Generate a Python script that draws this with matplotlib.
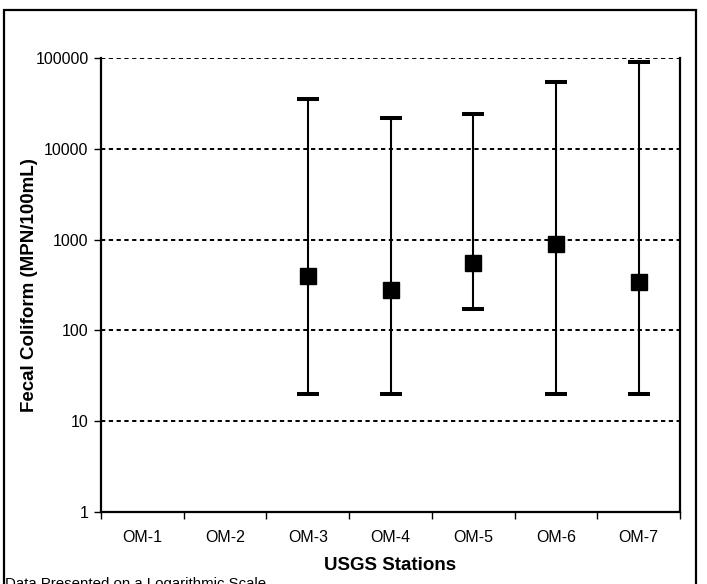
import matplotlib
matplotlib.use("Agg")
import matplotlib.pyplot as plt
from matplotlib.patches import Rectangle
from matplotlib.ticker import FixedLocator, NullFormatter, NullLocator

plt.rcParams["font.family"] = ["Liberation Sans", "DejaVu Sans"]

stations = ["OM-1", "OM-2", "OM-3", "OM-4", "OM-5", "OM-6", "OM-7"]
# geometric mean / min / max fecal coliform per station (no data at OM-1, OM-2)
means = [None, None, 400, 280, 550, 900, 340]
mins = [None, None, 20, 20, 170, 20, 20]
maxs = [None, None, 35000, 22000, 24000, 54000, 91000]
y_ticks = [1, 10, 100, 1000, 10000, 100000]

fig = plt.figure(figsize=(7.07, 5.84), dpi=100)
ax = fig.add_axes([0.1429, 0.1233, 0.8189, 0.7774])

xs, ys, lo, hi = [], [], [], []
for i, (m, a, b) in enumerate(zip(means, mins, maxs), start=1):
    if m is None:
        continue
    xs.append(i)
    ys.append(m)
    lo.append(m - a)
    hi.append(b - m)

ax.errorbar(xs, ys, yerr=[lo, hi], fmt="s", color="black", ecolor="black",
            elinewidth=1.5, capsize=8, capthick=2.9, markersize=11,
            zorder=3)

ax.set_yscale("log")
ax.set_ylim(1, 100000)
ax.set_xlim(0.5, 7.5)
ax.yaxis.set_major_locator(FixedLocator(y_ticks))
ax.yaxis.set_minor_locator(NullLocator())
ax.set_yticklabels([str(v) for v in y_ticks])

for v in y_ticks[1:]:
    ax.axhline(v, color="black", lw=1.4, linestyle=(0, (2.2, 1.8)), zorder=1)

# category boundaries carry the tick marks, centres carry the labels
ax.xaxis.set_major_locator(FixedLocator([k + 0.5 for k in range(8)]))
ax.xaxis.set_major_formatter(NullFormatter())
ax.xaxis.set_minor_locator(FixedLocator(range(1, 8)))
ax.set_xticklabels(stations, minor=True)
ax.tick_params(axis="x", which="major", direction="out", length=5, width=1)
ax.tick_params(axis="x", which="minor", length=0, pad=13, labelsize=11.5)
ax.tick_params(axis="y", direction="out", length=5, width=1, labelsize=11.5, pad=4)

ax.spines["top"].set_visible(False)
for s in ("left", "bottom", "right"):
    ax.spines[s].set_linewidth(1.6)

ax.set_xlabel("USGS Stations", fontsize=13.5, fontweight="bold")
ax.set_ylabel("Fecal Coliform (MPN/100mL)", fontsize=13.5, fontweight="bold")
ax.xaxis.set_label_coords(0.5, -(566 - 512) / 454, transform=ax.transAxes)
ax.xaxis.label.set_va("center")
ax.yaxis.set_label_coords((29 - 101) / 579, 0.5, transform=ax.transAxes)
ax.yaxis.label.set_va("center")

fig.text(5 / 707, 1 - 577 / 584, "Data Presented on a Logarithmic Scale",
         fontsize=10.8, ha="left", va="top")

frame = Rectangle((4 / 707, -0.05), 692 / 707, 1 - 10 / 584 + 0.05,
                  transform=fig.transFigure, fill=False, lw=1.6,
                  edgecolor="black", clip_on=False)
fig.patches.append(frame)

fig.savefig("out.png", dpi=100)
